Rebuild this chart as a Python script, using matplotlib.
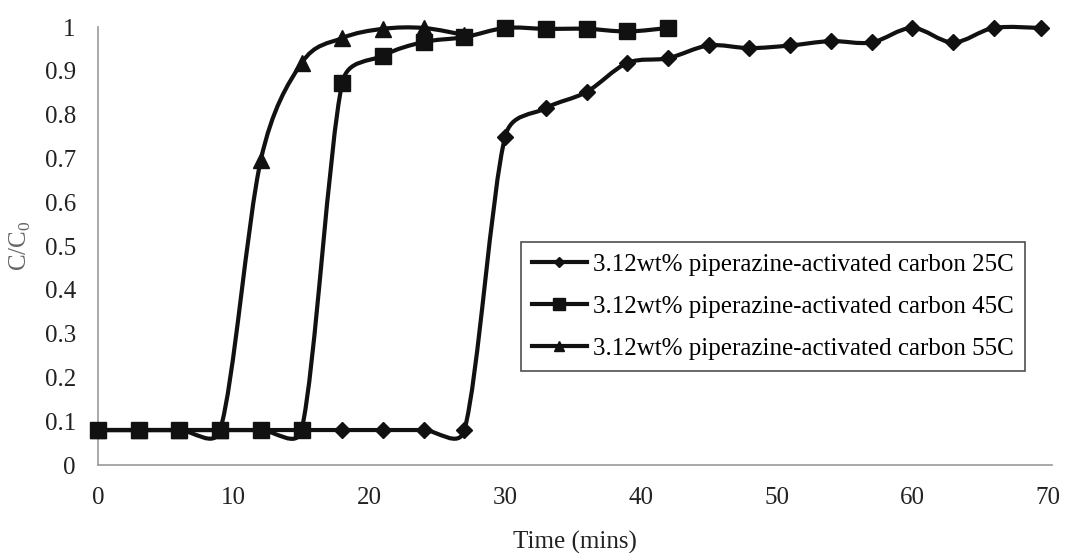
import matplotlib
matplotlib.use("Agg")
import numpy as np
import matplotlib.pyplot as plt
from matplotlib.path import Path
from matplotlib.patches import PathPatch
from matplotlib.lines import Line2D

plt.rcParams['font.family'] = ['Liberation Serif', 'DejaVu Serif']
plt.rcParams['mathtext.fontset'] = 'custom'
plt.rcParams['mathtext.rm'] = 'Liberation Serif'

t25 = [0, 3, 6, 9, 12, 15, 18, 21, 24, 27, 30, 33, 36, 39, 42, 45, 48, 51,
       54, 57, 60, 63, 66, 69.5]
c25 = [0.08, 0.08, 0.08, 0.08, 0.08, 0.08, 0.08, 0.08, 0.08, 0.08, 0.75, 0.815,
       0.852, 0.918, 0.929, 0.958, 0.952, 0.958, 0.968, 0.965, 0.998, 0.965,
       0.998, 0.998]
t45 = [0, 3, 6, 9, 12, 15, 18, 21, 24, 27, 30, 33, 36, 39, 42]
c45 = [0.08, 0.08, 0.08, 0.08, 0.08, 0.08, 0.873, 0.935, 0.966, 0.977, 0.998,
       0.996, 0.996, 0.99, 0.998]
t55 = [0, 3, 6, 9, 12, 15, 18, 21, 24, 27]
c55 = [0.08, 0.08, 0.08, 0.08, 0.697, 0.918, 0.975, 0.996, 0.998, 0.982]

labels = ["3.12wt% piperazine-activated carbon 25C",
          "3.12wt% piperazine-activated carbon 45C",
          "3.12wt% piperazine-activated carbon 55C"]
x_ticks = [0, 10, 20, 30, 40, 50, 60, 70]
y_ticks = [0, 0.1, 0.2, 0.3, 0.4, 0.5, 0.6, 0.7, 0.8, 0.9, 1]
y_ticklabels = ["0", "0.1", "0.2", "0.3", "0.4", "0.5", "0.6", "0.7", "0.8",
                "0.9", "1"]


def smooth_path(ax, xs, ys, f=1 / 6, cap=0.5):
    # smoothed line like a spreadsheet chart, built in pixel space
    p = ax.transData.transform(np.column_stack([xs, ys]))
    n = len(p)
    tang = [f * (p[min(i + 1, n - 1)] - p[max(i - 1, 0)]) for i in range(n)]
    verts = [p[0]]
    codes = [Path.MOVETO]
    for i in range(n - 1):
        L = np.hypot(*(p[i + 1] - p[i]))
        t0, t1 = tang[i], tang[i + 1]
        l0, l1 = np.hypot(*t0), np.hypot(*t1)
        if l0 > cap * L:
            t0 = t0 * cap * L / l0
        if l1 > cap * L:
            t1 = t1 * cap * L / l1
        verts += [p[i] + t0, p[i + 1] - t1, p[i + 1]]
        codes += [Path.CURVE4] * 3
    return Path(verts, codes)


fig = plt.figure(figsize=(10.7, 5.53), dpi=100)
ax = fig.add_axes([0.0916, 0.159, 0.8916, 0.792])
ax.set_xlim(0, 70.3)
ax.set_ylim(0, 1)

col = "#111111"
series = [(t25, c25, "D", 8, 2), (t45, c45, "s", 12, 4), (t55, c55, "^", 11, 3)]
handles = []
for (xs, ys, mk, ms, z), lab in zip(series, labels):
    ax.add_patch(PathPatch(smooth_path(ax, xs, ys), facecolor="none",
                           edgecolor=col, lw=3, zorder=z, clip_on=False,
                           transform=None))
    ax.plot(xs, ys, linestyle="none", marker=mk, markersize=ms, color=col,
            zorder=z + 0.5, clip_on=False)
    handles.append(Line2D([], [], color=col, lw=3, marker=mk,
                          markersize=ms * 0.7, label=lab))

ax.set_xticks(x_ticks)
ax.set_yticks(y_ticks)
ax.set_yticklabels(y_ticklabels)
ax.tick_params(length=0, pad=16, labelsize=18, labelcolor="#222222")
for s in ["top", "right"]:
    ax.spines[s].set_visible(False)
for s in ["left", "bottom"]:
    ax.spines[s].set_color("#999999")
    ax.spines[s].set_linewidth(1.2)

ax.set_xlabel("Time (mins)", fontsize=18, color="#222222", va="center")
ax.xaxis.set_label_coords(0.5, -0.176)
ax.set_ylabel("C/C$_0$", fontsize=18, color="#666666")
ax.yaxis.set_label_coords(-0.068, 0.5)

leg = ax.legend(handles=handles, loc="center left",
                bbox_to_anchor=(0.443, 0.362), fontsize=18, frameon=True,
                fancybox=False, edgecolor="#222222", handlelength=2.2,
                handletextpad=0.25, labelspacing=0.78, borderpad=0.45,
                borderaxespad=0)
leg.get_frame().set_linewidth(1.2)

fig.savefig("out.png", dpi=100)
